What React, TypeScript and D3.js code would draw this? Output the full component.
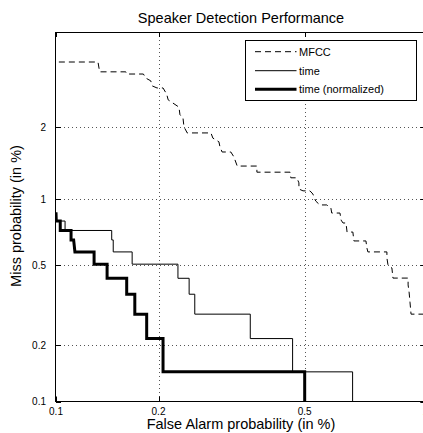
import React, { useEffect, useRef } from 'react';
import * as d3 from 'd3';

// DET curve values, in % (false alarm / miss)
const mfccFa = [0.102, 0.1335, 0.135, 0.161, 0.162, 0.181, 0.184, 0.19, 0.192, 0.198, 0.206, 0.211, 0.213, 0.2285, 0.23, 0.2345, 0.236, 0.241, 0.2805, 0.284, 0.295, 0.297, 0.301, 0.318, 0.324, 0.331, 0.374, 0.374, 0.458, 0.46, 0.477, 0.483, 0.483, 0.495, 0.516, 0.525, 0.534, 0.547, 0.57, 0.584, 0.587, 0.616, 0.62, 0.627, 0.638, 0.642, 0.664, 0.668, 0.716, 0.72, 0.724, 0.807, 0.807, 0.812, 0.83, 0.835, 0.909, 0.909, 0.914, 0.919, 0.924, 1.0];
const mfccMiss = [3.54, 3.54, 3.26, 3.26, 3.2, 3.2, 3.09, 3.02, 2.89, 2.84, 2.84, 2.69, 2.56, 2.4, 2.24, 2.18, 2.01, 1.9, 1.9, 1.81, 1.75, 1.67, 1.59, 1.59, 1.52, 1.39, 1.39, 1.31, 1.31, 1.24, 1.24, 1.18, 1.11, 1.09, 1.09, 1.056, 0.984, 0.946, 0.946, 0.917, 0.871, 0.871, 0.81, 0.786, 0.786, 0.715, 0.715, 0.651, 0.651, 0.604, 0.579, 0.579, 0.542, 0.502, 0.486, 0.435, 0.435, 0.403, 0.372, 0.329, 0.289, 0.289];

const timeFa = [0.1, 0.1065, 0.1065, 0.1465, 0.1465, 0.148, 0.148, 0.168, 0.168, 0.227, 0.227, 0.244, 0.244, 0.253, 0.253, 0.359, 0.359, 0.465, 0.465, 0.663, 0.663];
const timeMiss = [0.802, 0.802, 0.727, 0.727, 0.658, 0.658, 0.579, 0.579, 0.507, 0.507, 0.434, 0.434, 0.363, 0.363, 0.289, 0.289, 0.217, 0.217, 0.145, 0.145, 0.1];

const normFa = [0.1, 0.1002, 0.103, 0.103, 0.111, 0.111, 0.113, 0.114, 0.13, 0.13, 0.142, 0.142, 0.162, 0.162, 0.171, 0.171, 0.185, 0.185, 0.206, 0.206, 0.5, 0.5];
const normMiss = [0.878, 0.802, 0.802, 0.727, 0.727, 0.658, 0.658, 0.579, 0.579, 0.507, 0.507, 0.434, 0.434, 0.363, 0.363, 0.289, 0.289, 0.217, 0.217, 0.145, 0.145, 0.1];

const xTicks = [0.1, 0.2, 0.5, 1];
const yTicks = [0.1, 0.2, 0.5, 1, 2];
const xDomain = [0.1, 1];
const yDomain = [0.1, 4.52];

const seriesNames = ['MFCC', 'time', 'time (normalized)'];

// inverse normal CDF (Acklam)
function probit(p: number): number {
  const a = [-39.69683028665376, 220.9460984245205, -275.9285104469687, 138.357751867269, -30.66479806614716, 2.506628277459239];
  const b = [-54.47609879822406, 161.5858368580409, -155.6989798598866, 66.80131188771972, -13.28068155833025];
  const c = [-0.007784894002430293, -0.3223964580411365, -2.400758277161838, -2.549732539343734, 4.374664141464968, 2.938163982698783];
  const d = [0.007784695709041462, 0.3224671290700398, 2.445134137142996, 3.754408661907416];
  const plow = 0.02425;
  if (p < plow) {
    const q = Math.sqrt(-2 * Math.log(p));
    return (((((c[0] * q + c[1]) * q + c[2]) * q + c[3]) * q + c[4]) * q + c[5]) /
      ((((d[0] * q + d[1]) * q + d[2]) * q + d[3]) * q + 1);
  }
  if (p > 1 - plow) return -probit(1 - p);
  const q = p - 0.5;
  const r = q * q;
  return (((((a[0] * r + a[1]) * r + a[2]) * r + a[3]) * r + a[4]) * r + a[5]) * q /
    (((((b[0] * r + b[1]) * r + b[2]) * r + b[3]) * r + b[4]) * r + 1);
}

const DetChart: React.FC = () => {
  const svgRef = useRef<SVGSVGElement>(null);

  useEffect(() => {
    if (!svgRef.current) return;
    const svg = d3.select(svgRef.current);
    svg.selectAll('*').remove();

    const left = 56, top = 32, bottom = 401.5, right = 425.3;
    const font = '"Liberation Sans", Arial, sans-serif';

    const xs = d3.scaleLinear()
      .domain(xDomain.map(v => probit(v / 100)))
      .range([left, right]);
    const ys = d3.scaleLinear()
      .domain(yDomain.map(v => probit(v / 100)))
      .range([bottom, top]);
    const X = (v: number) => xs(probit(v / 100));
    const Y = (v: number) => ys(probit(v / 100));

    svg.append('defs').append('clipPath').attr('id', 'plot-clip')
      .append('rect').attr('x', left).attr('y', top)
      .attr('width', right - left).attr('height', bottom - top);

    // grid
    const grid = svg.append('g')
      .attr('stroke', '#555').attr('stroke-width', 1)
      .attr('stroke-dasharray', '1 3');
    grid.selectAll('.gx')
      .data(xTicks.filter(t => t > xDomain[0]))
      .enter().append('line')
      .attr('x1', d => Math.round(X(d)) + 0.5).attr('x2', d => Math.round(X(d)) + 0.5)
      .attr('y1', top).attr('y2', bottom);
    grid.selectAll('.gy')
      .data(yTicks.filter(t => t > yDomain[0]))
      .enter().append('line')
      .attr('y1', d => Math.round(Y(d)) + 0.5).attr('y2', d => Math.round(Y(d)) + 0.5)
      .attr('x1', left).attr('x2', right);

    // curves
    const curves = svg.append('g').attr('clip-path', 'url(#plot-clip)').attr('fill', 'none');
    const line = d3.line<[number, number]>().x(d => X(d[0])).y(d => Y(d[1]));

    curves.append('path')
      .attr('d', line(timeFa.map((v, i) => [v, timeMiss[i]] as [number, number])))
      .attr('stroke', '#000').attr('stroke-width', 1);
    curves.append('path')
      .attr('d', line(normFa.map((v, i) => [v, normMiss[i]] as [number, number])))
      .attr('stroke', '#000').attr('stroke-width', 3);
    curves.append('path')
      .attr('d', line(mfccFa.map((v, i) => [v, mfccMiss[i]] as [number, number])))
      .attr('stroke', '#000').attr('stroke-width', 1)
      .attr('stroke-dasharray', '6 4');

    // axes box
    const box = svg.append('g').attr('stroke', '#000').attr('stroke-width', 1).attr('fill', 'none');
    box.append('rect')
      .attr('x', left - 0.5).attr('y', top + 0.5)
      .attr('width', right - left).attr('height', bottom - top - 0.5);

    // inward tick marks
    const tk = 5;
    xTicks.forEach(t => {
      const x = Math.round(X(t)) + 0.5;
      box.append('line').attr('x1', x).attr('x2', x).attr('y1', bottom).attr('y2', bottom - tk);
      box.append('line').attr('x1', x).attr('x2', x).attr('y1', top).attr('y2', top + tk);
    });
    yTicks.forEach(t => {
      const y = Math.round(Y(t)) + 0.5;
      box.append('line').attr('x1', left).attr('x2', left + tk).attr('y1', y).attr('y2', y);
      box.append('line').attr('x1', right).attr('x2', right - tk).attr('y1', y).attr('y2', y);
    });

    // tick labels
    svg.append('g').selectAll('text')
      .data(xTicks).enter().append('text')
      .attr('x', d => X(d)).attr('y', 415)
      .attr('text-anchor', 'middle')
      .style('font-family', font).style('font-size', '10px')
      .text(d => String(d));
    svg.append('g').selectAll('text')
      .data(yTicks).enter().append('text')
      .attr('x', 46).attr('y', d => Y(d)).attr('dy', '0.35em')
      .attr('text-anchor', 'end')
      .style('font-family', font).style('font-size', '10px')
      .text(d => String(d));

    // titles
    svg.append('text')
      .attr('x', 241).attr('y', 23).attr('text-anchor', 'middle')
      .style('font-family', font).style('font-size', '14.5px')
      .text('Speaker Detection Performance');
    svg.append('text')
      .attr('x', 241).attr('y', 429).attr('text-anchor', 'middle')
      .style('font-family', font).style('font-size', '14.5px')
      .text('False Alarm probability (in %)');
    svg.append('text')
      .attr('transform', 'translate(21,216) rotate(-90)')
      .attr('text-anchor', 'middle')
      .style('font-family', font).style('font-size', '14.5px')
      .text('Miss probability (in %)');

    // legend
    const lg = svg.append('g');
    lg.append('rect')
      .attr('x', 245.5).attr('y', 40.5).attr('width', 171).attr('height', 60)
      .attr('fill', '#fff').attr('stroke', '#000').attr('stroke-width', 1);
    const rowsY = [51.7, 70.7, 89.3];
    const styles = [
      { w: 1, dash: '6 4' },
      { w: 1, dash: null },
      { w: 3, dash: null },
    ];
    seriesNames.forEach((name, i) => {
      lg.append('line')
        .attr('x1', 255).attr('x2', 296.5)
        .attr('y1', rowsY[i]).attr('y2', rowsY[i])
        .attr('stroke', '#000').attr('stroke-width', styles[i].w)
        .attr('stroke-dasharray', styles[i].dash);
      lg.append('text')
        .attr('x', 299).attr('y', rowsY[i]).attr('dy', '0.35em')
        .style('font-family', font).style('font-size', '11px')
        .text(name);
    });
  }, []);

  return (
    <svg ref={svgRef} width={423} height={433}
      style={{ position: 'absolute', left: 0, top: 0, background: '#fff' }} />
  );
};

export default function App() {
  return <DetChart />;
}
